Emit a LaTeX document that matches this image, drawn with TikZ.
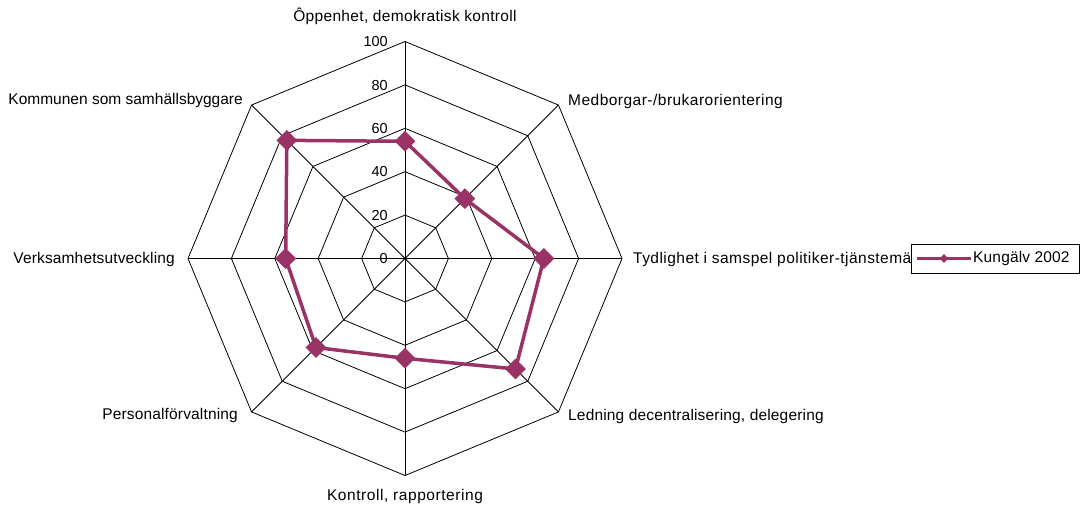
\documentclass[tikz,border=0pt]{standalone}
\usepackage{fontspec}
\setmainfont{Liberation Sans}
\usetikzlibrary{shapes.geometric}
\definecolor{plum}{RGB}{153,51,102}
\begin{document}
\begin{tikzpicture}[x=1pt,y=1pt,
  grid/.style={black, line width=0.8pt},
  series/.style={draw=plum, line width=3.5pt, line join=round},
  mk/.style={diamond, fill=plum, inner sep=0pt, minimum size=21pt},
  lab/.style={font=\fontsize{15.5}{17}\selectfont\addfontfeature{LetterSpace=#1}, inner sep=0pt, text height=11pt, text depth=3pt},
  lab/.default=0,
  tick/.style={font=\fontsize{14.5}{17}\selectfont, anchor=east, inner sep=0pt, text height=10.5pt, text depth=0pt}]
\useasboundingbox[fill=white] (0,0) rectangle (1083,512);
\begin{scope}[shift={(405,253.5)}]
  \foreach \v in {0.2,0.4,0.6,0.8,1}
    \draw[grid] (90:\v*217) -- (45:\v*217) -- (0:\v*217) -- (-45:\v*217) -- (-90:\v*217) -- (-135:\v*217) -- (180:\v*217) -- (135:\v*217) -- cycle;
  \foreach \a in {90,45,0,-45,-90,-135,180,135}
    \draw[grid] (0,0) -- (\a:217);
  \foreach \v/\n in {0/0,20/20,40/40,60/60,80/80,100/100}
    \node[tick] (t\n) at (-17,{\v*2.17}) {\v};
  \coordinate (p1) at (90:54*2.17);
  \coordinate (p2) at (45:39*2.17);
  \coordinate (p3) at (0:64*2.17);
  \coordinate (p4) at (-45:72*2.17);
  \coordinate (p5) at (-90:46*2.17);
  \coordinate (p6) at (-135:58*2.17);
  \coordinate (p7) at (180:55*2.17);
  \coordinate (p8) at (135:77*2.17);
  \draw[series] (p1) -- (p2) -- (p3) -- (p4) -- (p5) -- (p6) -- (p7) -- (p8) -- cycle;
  \foreach \i in {1,...,8}
    \node[mk] (m\i) at (p\i) {};
\end{scope}
\node[lab=2.1] (lN) at (405,494) {Ôppenhet, demokratisk kontroll};
\node[lab=3.1, anchor=west] (lNE) at (568,410.3) {Medborgar-/brukarorientering};
\node[lab=3, anchor=west] (lE) at (633,253) {Tydlighet i samspel politiker-tjänstemän};
\node[lab=1.1, anchor=west] (lSE) at (568,95.3) {Ledning decentralisering, delegering};
\node[lab=3.6] (lS) at (405,15.3) {Kontroll, rapportering};
\node[lab=1, anchor=east] (lSW) at (238,97) {Personalförvaltning};
\node[lab=0.9, anchor=east] (lW) at (175,253) {Verksamhetsutveckling};
\node[lab=0, anchor=east] (lNW) at (243,411.3) {Kommunen som samhällsbyggare};
% legend
\draw[fill=white, draw=black, line width=0.8pt] (911,239) rectangle (1079,268);
\coordinate (la) at (917,253.5);
\coordinate (lb) at (971,253.5);
\draw[series] (la) -- (lb);
\node[diamond, fill=plum, inner sep=0pt, minimum size=9pt] (lm) at (944,253.5) {};
\node[lab=1, anchor=west] (lt) at (973,253.5) {Kungälv 2002};
\end{tikzpicture}
\end{document}
